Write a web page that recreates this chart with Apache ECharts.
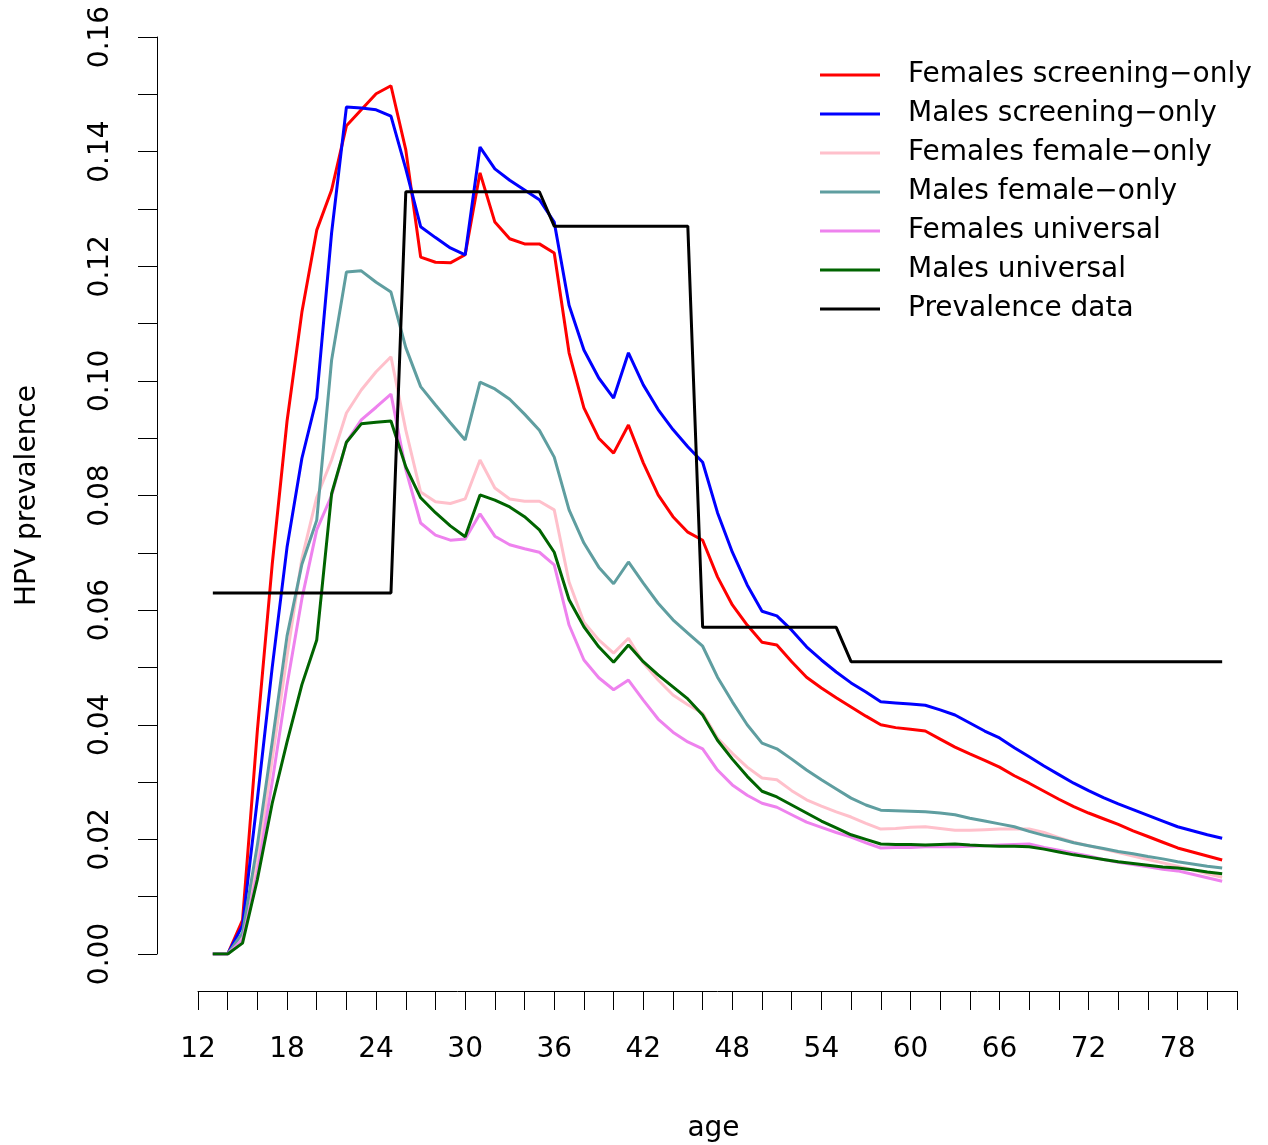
<!DOCTYPE html>
<html>
<head>
<meta charset="utf-8">
<script src="https://cdn.jsdelivr.net/npm/echarts@6/dist/echarts.min.js"></script>
<style>
  html, body { margin: 0; padding: 0; background: #fff; }
  #main { width: 1268px; height: 1145px; }
</style>
</head>
<body>
<div id="main"></div>
<script>
// ages 13..81
var ages = [];
for (var a = 13; a <= 81; a++) ages.push(a);

var femScreen = [
  0, 0, 0.0059, 0.039, 0.068, 0.093, 0.112, 0.1263, 0.1333, 0.1445,
  0.1473, 0.1501, 0.1515, 0.1403, 0.1216, 0.1207, 0.1206, 0.122, 0.1363, 0.1277,
  0.1248, 0.1239, 0.1239, 0.1223, 0.1049, 0.0953, 0.090, 0.0874, 0.0923, 0.0857,
  0.0801, 0.0763, 0.0736, 0.0722, 0.0658, 0.0609, 0.0574, 0.0544, 0.0539, 0.051,
  0.0483, 0.0464, 0.0447, 0.0431, 0.0415, 0.0400, 0.0395, 0.0392, 0.0389, 0.0375,
  0.0361, 0.0349, 0.0338, 0.0326, 0.0311, 0.0298, 0.0284, 0.0270, 0.0257, 0.0246,
  0.0236, 0.0226, 0.0215, 0.0205, 0.0195, 0.0185, 0.0178, 0.0171, 0.0164
];
var malScreen = [
  0, 0, 0.005, 0.027, 0.050, 0.071, 0.0865, 0.097, 0.1258, 0.1478,
  0.1476, 0.1473, 0.1462, 0.137, 0.1269, 0.125, 0.1232, 0.122, 0.1408, 0.137,
  0.135, 0.1333, 0.1316, 0.1277, 0.1132, 0.1054, 0.1005, 0.097, 0.1049, 0.0993,
  0.095, 0.0915, 0.0885, 0.0858, 0.077, 0.0701, 0.0644, 0.0598, 0.059, 0.0565,
  0.0536, 0.0513, 0.0492, 0.0473, 0.0457, 0.044, 0.0438, 0.0436, 0.0434, 0.0426,
  0.0417, 0.0403, 0.0389, 0.0377, 0.0360, 0.0344, 0.0328, 0.0313, 0.0298, 0.0285,
  0.0273, 0.0262, 0.0252, 0.0242, 0.0232, 0.0222, 0.0215, 0.0208, 0.0202
];
var femFemale = [
  0, 0, 0.003, 0.016, 0.034, 0.052, 0.069, 0.0797, 0.0862, 0.0944,
  0.0984, 0.1016, 0.1042, 0.0914, 0.0806, 0.0789, 0.0786, 0.0794, 0.0862, 0.0813,
  0.0794, 0.079, 0.079, 0.0775, 0.0649, 0.0579, 0.0548, 0.0525, 0.0551, 0.0508,
  0.0478, 0.0452, 0.0435, 0.042, 0.0377, 0.035, 0.0326, 0.0307, 0.0304, 0.0285,
  0.0269, 0.0258, 0.0248, 0.0239, 0.0228, 0.0218, 0.0219, 0.0221, 0.0222, 0.0219,
  0.0216, 0.0216, 0.0217, 0.0218, 0.0218, 0.0218, 0.0212, 0.0203, 0.0195, 0.0189,
  0.0183, 0.0177, 0.0171, 0.0165, 0.0159, 0.0153, 0.0147, 0.0140, 0.0134
];
var malFemale = [
  0, 0, 0.0037, 0.019, 0.037, 0.0555, 0.068, 0.0757, 0.1036, 0.119,
  0.1192, 0.1172, 0.1155, 0.1058, 0.099, 0.0958, 0.0927, 0.0897, 0.0998, 0.0986,
  0.0968, 0.0942, 0.0914, 0.0867, 0.0775, 0.0717, 0.0675, 0.0646, 0.0684, 0.0647,
  0.0612, 0.0583, 0.056, 0.0537, 0.0483, 0.044, 0.040, 0.0368, 0.0358, 0.034,
  0.0321, 0.0304, 0.0288, 0.0272, 0.026, 0.0251, 0.025, 0.0249, 0.0248, 0.0246,
  0.0243, 0.0237, 0.0232, 0.0227, 0.0222, 0.0214, 0.0207, 0.0201, 0.0194, 0.0189,
  0.0184, 0.0179, 0.0175, 0.017, 0.0166, 0.0161, 0.0157, 0.0153, 0.015
];
var femUniv = [
  0, 0, 0.0025, 0.014, 0.030, 0.047, 0.062, 0.074, 0.080, 0.0893,
  0.0932, 0.0954, 0.0977, 0.0845, 0.0752, 0.0731, 0.0722, 0.0724, 0.0768, 0.0729,
  0.0714, 0.0707, 0.0701, 0.0679, 0.0574, 0.0513, 0.0482, 0.0461, 0.0478, 0.0443,
  0.041, 0.0387, 0.037, 0.0358, 0.0321, 0.0295, 0.0277, 0.0263, 0.0256, 0.0243,
  0.023, 0.0221, 0.0212, 0.0204, 0.0194, 0.0185, 0.0186, 0.0186, 0.0187, 0.0187,
  0.0187, 0.0188, 0.0189, 0.019, 0.0191, 0.0192, 0.0186, 0.0181, 0.0176, 0.0171,
  0.0165, 0.016, 0.0156, 0.0152, 0.0148, 0.0145, 0.0139, 0.0133, 0.0127
];
var malUniv = [
  0, 0, 0.0019, 0.013, 0.0263, 0.037, 0.047, 0.0548, 0.0803, 0.0893,
  0.0925, 0.0928, 0.093, 0.085, 0.0796, 0.077, 0.0747, 0.0728, 0.0801, 0.0792,
  0.078, 0.0763, 0.074, 0.0701, 0.0618, 0.0571, 0.0536, 0.0509, 0.0539, 0.051,
  0.0487, 0.0466, 0.0445, 0.0417, 0.0373, 0.034, 0.031, 0.0284, 0.0274, 0.026,
  0.0246, 0.0232, 0.022, 0.0208, 0.02, 0.0192, 0.0191, 0.0191, 0.019, 0.0191,
  0.0192, 0.019, 0.0189, 0.0188, 0.0188, 0.0187, 0.0183, 0.0178, 0.0173, 0.0169,
  0.0165, 0.0161, 0.0158, 0.0155, 0.0152, 0.015, 0.0147, 0.0143, 0.014
];
var prevData = [
  0.063, 0.063, 0.063, 0.063, 0.063, 0.063, 0.063, 0.063, 0.063, 0.063, 0.063, 0.063, 0.063,
  0.133, 0.133, 0.133, 0.133, 0.133, 0.133, 0.133, 0.133, 0.133, 0.133,
  0.127, 0.127, 0.127, 0.127, 0.127, 0.127, 0.127, 0.127, 0.127, 0.127,
  0.057, 0.057, 0.057, 0.057, 0.057, 0.057, 0.057, 0.057, 0.057, 0.057,
  0.051, 0.051, 0.051, 0.051, 0.051, 0.051, 0.051, 0.051, 0.051, 0.051, 0.051, 0.051, 0.051,
  0.051, 0.051, 0.051, 0.051, 0.051, 0.051, 0.051, 0.051, 0.051, 0.051, 0.051, 0.051, 0.051
];

var seriesNames = [
  "Females screening\u2212only",
  "Males screening\u2212only",
  "Females female\u2212only",
  "Males female\u2212only",
  "Females universal",
  "Males universal",
  "Prevalence data"
];
var seriesValues = [femScreen, malScreen, femFemale, malFemale, femUniv, malUniv, prevData];
var colors = ["#FF0000", "#0000FF", "#FFC0CB", "#5F9EA0", "#EE82EE", "#006400", "#000000"];

var FONT = "DejaVu Sans";

function pairs(vals) {
  return ages.map(function (a, i) { return [a, vals[i]]; });
}

var chart = echarts.init(document.getElementById("main"), null, { renderer: "canvas" });

var series = seriesNames.map(function (name, i) {
  return {
    name: name,
    type: "line",
    data: pairs(seriesValues[i]),
    showSymbol: false,
    symbol: "none",
    animation: false,
    lineStyle: { color: colors[i], width: 3 },
    itemStyle: { color: colors[i] }
  };
});

var option = {
  backgroundColor: "#fff",
  animation: false,
  textStyle: { fontFamily: FONT },
  grid: {
    left: 198, right: 31, top: 37, bottom: 191,
    containLabel: false,
    outerBoundsMode: "none"
  },
  legend: {
    orient: "vertical",
    left: 820,
    top: 61,
    padding: 0,
    icon: "rect",
    itemWidth: 60,
    itemHeight: 3,
    itemGap: 11,
    data: seriesNames,
    textStyle: {
      fontFamily: FONT,
      fontSize: 28,
      lineHeight: 28,
      color: "#000",
      padding: [0, 0, 0, 23]
    }
  },
  xAxis: {
    type: "value",
    min: 12,
    max: 82,
    interval: 2,
    offset: 37,
    name: "age",
    nameLocation: "middle",
    nameGap: 124,
    nameTextStyle: { fontFamily: FONT, fontSize: 28, color: "#000", padding: [0, 8, 0, 0] },
    axisLine: { show: true, onZero: false, lineStyle: { color: "#000", width: 1 } },
    axisTick: { show: true, length: 19, lineStyle: { color: "#000", width: 1 } },
    axisLabel: {
      fontFamily: FONT,
      fontSize: 28,
      color: "#000",
      margin: 45,
      formatter: function (v) { return (v - 12) % 6 === 0 && v <= 78 ? String(v) : ""; }
    },
    splitLine: { show: false }
  },
  yAxis: {
    type: "value",
    min: 0,
    max: 0.16,
    interval: 0.01,
    offset: 41,
    name: "HPV prevalence",
    nameLocation: "middle",
    nameGap: 115,
    nameTextStyle: { fontFamily: FONT, fontSize: 28, color: "#000" },
    axisLine: { show: true, onZero: false, lineStyle: { color: "#000", width: 1 } },
    axisTick: { show: true, length: 19, lineStyle: { color: "#000", width: 1 } },
    axisLabel: {
      fontFamily: FONT,
      fontSize: 28,
      color: "#000",
      rotate: 90,
      margin: 42,
      formatter: function (v) {
        var k = Math.round(v * 100);
        return k % 2 === 0 ? (k / 100).toFixed(2) : "";
      }
    },
    splitLine: { show: false }
  },
  series: series
};

chart.setOption(option);
</script>
</body>
</html>
